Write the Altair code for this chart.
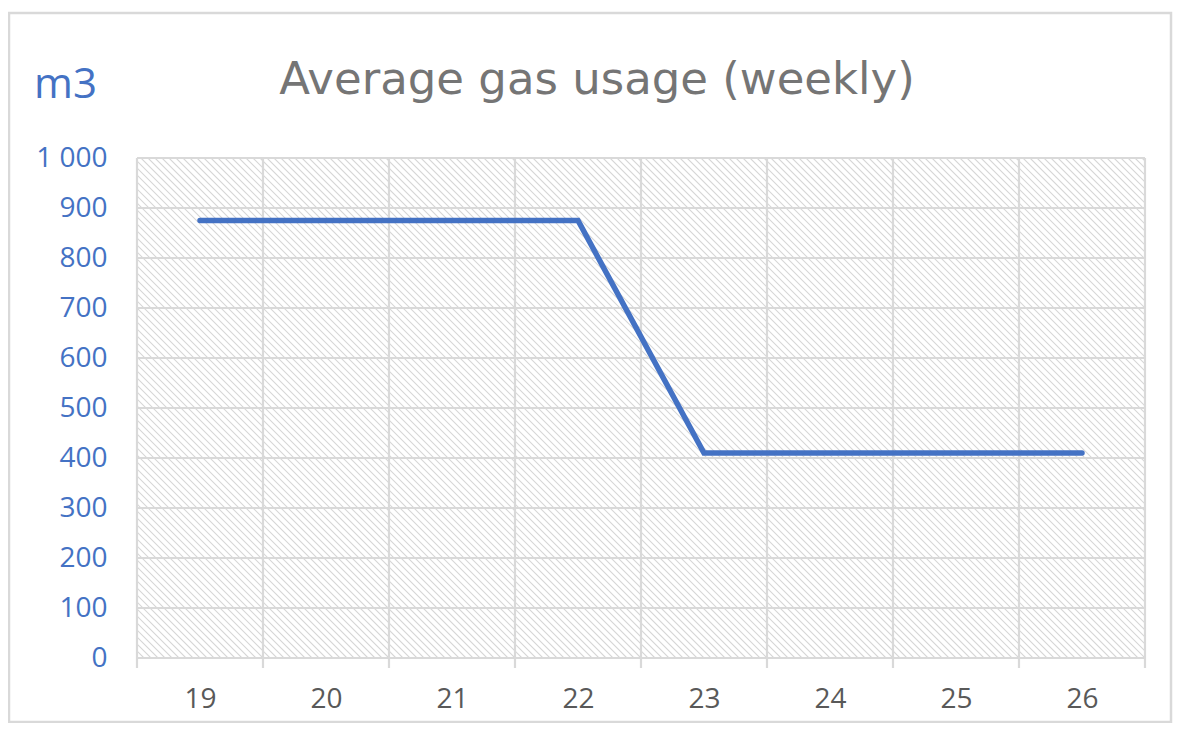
import altair as alt
import numpy as np
import pandas as pd

# ---- data ----
weeks = [19, 20, 21, 22, 23, 24, 25, 26]
usage = [875, 875, 875, 875, 410, 410, 410, 410]
y_ticks = [0, 100, 200, 300, 400, 500, 600, 700, 800, 900, 1000]
x_bounds = [18.5, 19.5, 20.5, 21.5, 22.5, 23.5, 24.5, 25.5, 26.5]
title_text = "Average gas usage (weekly)"
unit_text = "m3"

W, H = 1008, 500
FONT = "Open Sans"
BLUE = "#4472C4"
GRID = "#d9d9d9"

xscale = alt.Scale(domain=[18.5, 26.5], nice=False, zero=False)
yscale = alt.Scale(domain=[0, 1000], nice=False)

xaxis = alt.Axis(
    values=weeks, format="d", title=None, ticks=False, domain=False, grid=False,
    labelFont=FONT, labelFontSize=28, labelColor="#595959", labelPadding=27,
)
yaxis = alt.Axis(
    values=y_ticks, title=None, ticks=False, domain=False, grid=False,
    labelFont=FONT, labelFontSize=28, labelColor=BLUE, labelPadding=30,
    labelExpr="replace(format(datum.value, ','), ',', ' ')",
)

line_df = pd.DataFrame({"week": weeks, "usage": usage})
ygrid_df = pd.DataFrame({"v": y_ticks})
xgrid_df = pd.DataFrame({"b": x_bounds})

# decorative diagonal hatch texture of the plot area (background pattern)
px_per_x = W / 8.0
span = H / px_per_x
starts = np.arange(18.5 - span, 26.5 + 0.01, 7.0 / px_per_x)
hatch_df = pd.DataFrame({"x0": starts, "x1": starts + span, "y0": 1000, "y1": 0})

hatch = alt.Chart(hatch_df).mark_rule(color="#d6d6d6", strokeWidth=1.1, clip=True).encode(
    x=alt.X("x0:Q", scale=xscale, axis=xaxis),
    x2="x1:Q",
    y=alt.Y("y0:Q", scale=yscale, axis=yaxis),
    y2="y1:Q",
)

hgrid = alt.Chart(ygrid_df).mark_rule(color=GRID, strokeWidth=2.2).encode(
    y=alt.Y("v:Q", scale=yscale, axis=yaxis),
    x=alt.value(0),
    x2=alt.value(W),
)

vgrid = alt.Chart(xgrid_df).mark_rule(color=GRID, strokeWidth=2.2).encode(
    x=alt.X("b:Q", scale=xscale, axis=xaxis),
    y=alt.value(0),
    y2=alt.value(H + 10),
)

line = alt.Chart(line_df).mark_line(color=BLUE, strokeWidth=5.5, strokeCap="round").encode(
    x=alt.X("week:Q", scale=xscale, axis=xaxis),
    y=alt.Y("usage:Q", scale=yscale, axis=yaxis),
)

one = pd.DataFrame({"t": [title_text], "u": [unit_text]})

title = alt.Chart(one).mark_text(
    font="DejaVu Sans", fontSize=45, color="#757575", align="center", baseline="alphabetic"
).encode(text="t:N", x=alt.value(460), y=alt.value(-64))

unit = alt.Chart(one).mark_text(
    font=FONT, fontSize=42, color=BLUE, align="left", baseline="alphabetic"
).encode(text="u:N", x=alt.value(-103), y=alt.value(-60))

frame = alt.Chart(one).mark_rect(fill=None, stroke=GRID, strokeWidth=2.5, clip=False).encode(
    x=alt.value(-128), x2=alt.value(1034), y=alt.value(-145), y2=alt.value(564)
)

chart = alt.layer(hatch, hgrid, vgrid, line, title, unit, frame).properties(
    width=W,
    height=H,
    autosize=alt.AutoSizeParams(type="none"),
    padding={"left": 129, "top": 150, "right": 28, "bottom": 65},
    background="white",
).configure_view(stroke=None)

chart.save("out.html", embed_options={"renderer": "svg", "actions": False})
